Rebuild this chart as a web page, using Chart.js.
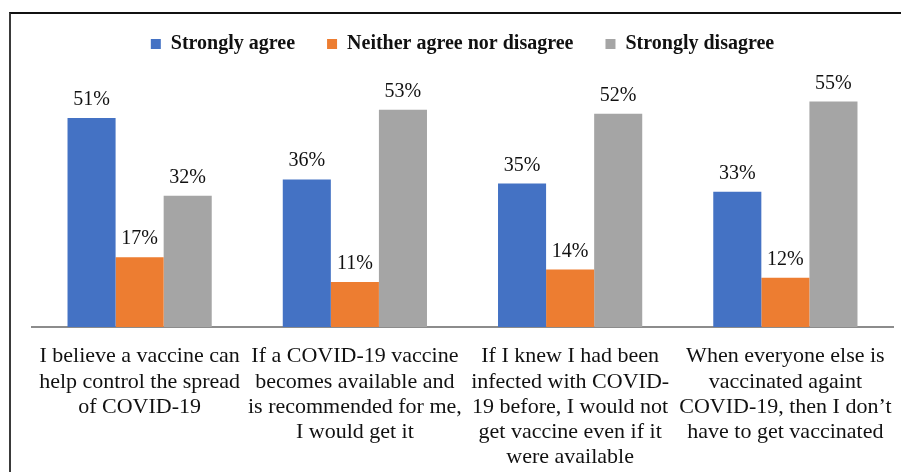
<!DOCTYPE html>
<html>
<head>
<meta charset="utf-8">
<script src="https://cdn.jsdelivr.net/npm/chart.js@4"></script>
<style>
  html, body { margin: 0; padding: 0; background: #fff; overflow: hidden; }
  #wrap { position: relative; width: 901px; height: 472px; overflow: hidden; }
  #chart { position: absolute; left: 0; top: 0; }
  #frame {
    position: absolute; left: 9px; top: 12px; width: 900px; height: 470px;
    border-top: 2px solid #111; border-left: 2px solid #3a3a3a;
    pointer-events: none;
  }
</style>
</head>
<body>
<div id="wrap">
  <canvas id="chart" width="901" height="487"></canvas>
  <div id="frame"></div>
</div>
<script>
// Survey statements (x-axis categories, one array per wrapped line)
const categories = [
  ["I believe a vaccine can", "help control the spread", "of COVID-19"],
  ["If a COVID-19 vaccine", "becomes available and", "is recommended for me,", "I would get it"],
  ["If I knew I had been", "infected with COVID-", "19 before, I would not", "get vaccine even if it", "were available"],
  ["When everyone else is", "vaccinated againt", "COVID-19, then I don\u2019t", "have to get vaccinated"]
];

// Share of respondents (%) per answer
const stronglyAgree = [51, 36, 35, 33];
const neitherAgreeNorDisagree = [17, 11, 14, 12];
const stronglyDisagree = [32, 53, 52, 55];

const seriesNames = ["Strongly agree", "Neither agree nor disagree", "Strongly disagree"];
const seriesColors = ["#4472C4", "#ED7D31", "#A5A5A5"];

const serif = "'Liberation Serif', 'Times New Roman', serif";

// Writes each bar's value above it, e.g. "51%"
const valueLabels = {
  id: 'valueLabels',
  afterDatasetsDraw(chart) {
    const ctx = chart.ctx;
    ctx.save();
    ctx.font = "20px " + serif;
    ctx.fillStyle = "#111";
    ctx.textAlign = "center";
    ctx.textBaseline = "alphabetic";
    chart.data.datasets.forEach((ds, di) => {
      chart.getDatasetMeta(di).data.forEach((bar, i) => {
        ctx.fillText(ds.data[i] + "%", bar.x, bar.y - 13);
      });
    });
    ctx.restore();
  }
};

// Leaves some room between the legend and the tallest bars
const legendHeight = {
  id: 'legendHeight',
  beforeInit(chart) {
    const fit = chart.legend.fit;
    chart.legend.fit = function () {
      fit.call(this);
      this.height += 17;
    };
  }
};

new Chart(document.getElementById('chart'), {
  type: 'bar',
  data: {
    labels: categories,
    datasets: [
      { label: seriesNames[0], data: stronglyAgree, backgroundColor: seriesColors[0] },
      { label: seriesNames[1], data: neitherAgreeNorDisagree, backgroundColor: seriesColors[1] },
      { label: seriesNames[2], data: stronglyDisagree, backgroundColor: seriesColors[2] }
    ]
  },
  options: {
    responsive: false,
    animation: false,
    devicePixelRatio: 1,
    layout: { padding: { left: 32, right: 8, top: 2, bottom: 0 } },
    datasets: {
      bar: { categoryPercentage: 0.67, barPercentage: 1.0, borderWidth: 0 }
    },
    plugins: {
      legend: {
        position: 'top',
        align: 'center',
        labels: {
          font: { family: serif, size: 20, weight: 'bold' },
          color: '#111',
          boxWidth: 10,
          boxHeight: 10,
          padding: 32
        }
      },
      tooltip: { enabled: false }
    },
    scales: {
      x: {
        grid: { display: false, drawTicks: false },
        border: { display: true, color: '#8c8c8c', width: 2 },
        ticks: {
          autoSkip: false,
          maxRotation: 0,
          minRotation: 0,
          padding: 17,
          color: '#111',
          font: { family: serif, size: 22, lineHeight: '25.2px' }
        },
        // the wrapped labels fit inside their columns, so no extra side room
        afterFit(scale) {
          scale.paddingLeft = 0;
          scale.paddingRight = 0;
        }
      },
      y: {
        display: false,
        min: 0,
        max: 60
      }
    }
  },
  plugins: [valueLabels, legendHeight]
});
</script>
</body>
</html>
